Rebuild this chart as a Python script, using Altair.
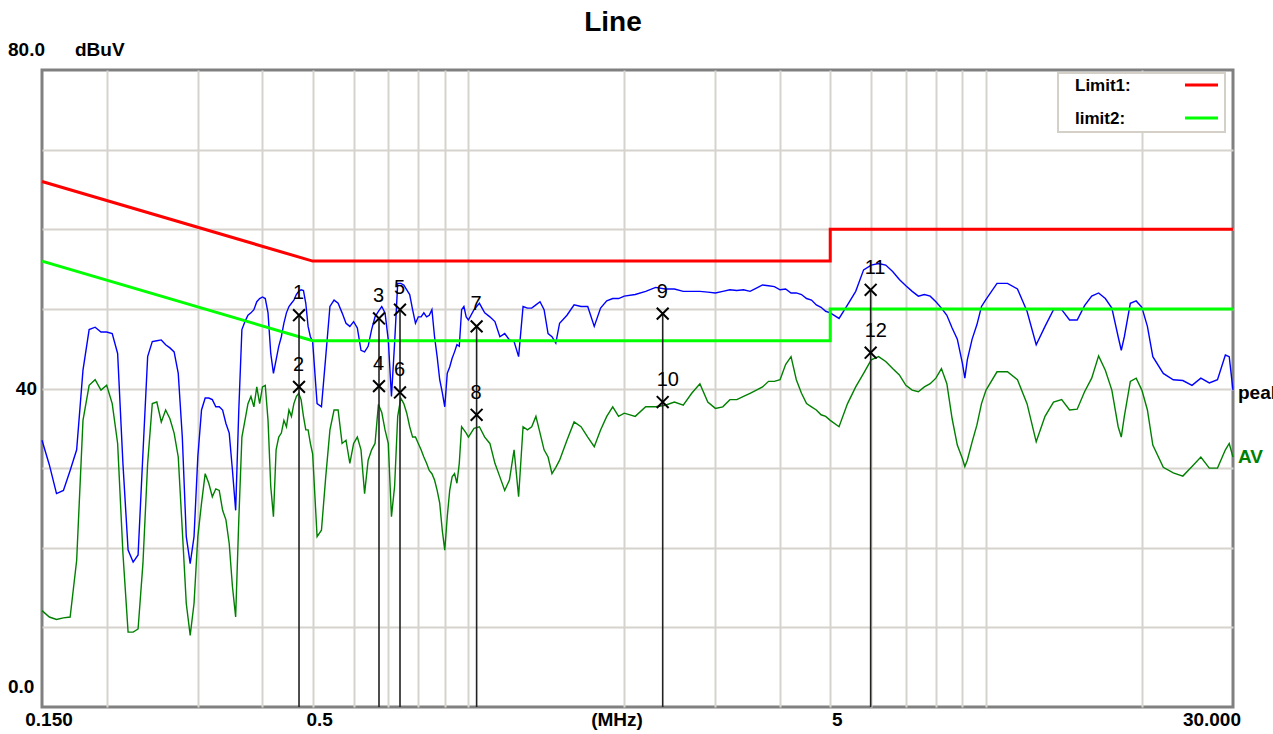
import altair as alt
import pandas as pd

# ---- sweep data (MHz, dBuV) ----
FREQ_MHZ = [
    0.150, 0.155, 0.160, 0.165, 0.170, 0.175, 0.180, 0.185, 0.190, 0.195,
    0.200, 0.205, 0.210, 0.215, 0.220, 0.225, 0.230, 0.235, 0.240, 0.245,
    0.250, 0.255, 0.260, 0.265, 0.270, 0.275, 0.280, 0.285, 0.290, 0.295,
    0.300, 0.305, 0.310, 0.315, 0.320, 0.325, 0.330, 0.335, 0.340, 0.345,
    0.350, 0.355, 0.360, 0.365, 0.370, 0.375, 0.380, 0.385, 0.390, 0.395,
    0.400, 0.405, 0.410, 0.415, 0.420, 0.425, 0.430, 0.435, 0.440, 0.445,
    0.450, 0.455, 0.460, 0.465, 0.470, 0.475, 0.480, 0.485, 0.490, 0.495,
    0.500,
    0.51, 0.52, 0.53, 0.54, 0.55, 0.56,
    0.57, 0.58, 0.59, 0.60, 0.61, 0.62, 0.63, 0.64, 0.65, 0.66,
    0.67, 0.68, 0.69, 0.70, 0.71, 0.72, 0.73, 0.74, 0.75, 0.76,
    0.77, 0.78, 0.79, 0.80, 0.81, 0.82, 0.83, 0.84, 0.85, 0.86,
    0.87, 0.88, 0.89, 0.90, 0.91, 0.92, 0.93, 0.94, 0.95, 0.96,
    0.97, 0.98, 0.99, 1.00,
    1.025, 1.05, 1.075, 1.10, 1.125, 1.15, 1.175, 1.20, 1.225, 1.25,
    1.275, 1.30, 1.325, 1.35, 1.375, 1.40, 1.425, 1.45, 1.475, 1.50,
    1.55, 1.60, 1.65, 1.70, 1.75, 1.80, 1.85, 1.90, 1.95, 2.00,
    2.1, 2.2, 2.3, 2.4, 2.5, 2.6, 2.7, 2.8, 2.9, 3.0,
    3.1, 3.2, 3.3, 3.4, 3.5, 3.6, 3.7, 3.8, 3.9, 4.0,
    4.1, 4.2, 4.3, 4.4, 4.5, 4.6, 4.7, 4.8, 4.9, 5.0,
    5.2, 5.4, 5.6, 5.8, 6.0, 6.2, 6.4, 6.6, 6.8, 7.0,
    7.2, 7.4, 7.6,
    7.8, 8.0, 8.2, 8.4, 8.6, 8.8, 9.0, 9.1, 9.2, 9.4,
    9.6, 9.8, 10.0,
    10.5, 11.0, 11.5, 12.0, 12.5, 13.0, 13.5, 14.0, 14.5, 15.0,
    15.5, 16.0, 16.5, 17.0, 17.5, 18.0, 18.25, 18.5, 19.0, 19.5,
    20.0,
    20.5, 21, 22, 23, 24, 25, 26, 27, 28, 29,
    29.5, 30,
]

PEAK_DBUV = [
    33.5, 30.4, 26.8, 27.2, 29.7, 32.3, 42.3, 47.4, 47.7, 47.1,
    47.1, 46.9, 44.4, 30.6, 19.7, 18.2, 19.1, 31.8, 44.0, 45.9,
    46.0, 46.1, 45.5, 45.1, 44.6, 41.9, 33.9, 21.4, 18.0, 21.4,
    31.4, 37.3, 38.8, 38.8, 38.6, 37.7, 37.7, 37.3, 35.6, 34.4,
    29.7, 24.7, 37.3, 47.4, 48.4, 49.2, 49.5, 49.9, 50.9, 51.3,
    51.5, 51.3, 49.5, 44.4, 41.9, 43.6, 45.3, 46.5, 48.2, 49.5,
    50.3, 50.7, 51.1, 51.8, 52.2, 52.4, 52.3, 50.7, 47.8, 46.5,
    45.9,
    38.1, 37.7, 44.0, 50.3, 51.1, 50.7,
    49.5, 48.2, 47.8, 48.4, 47.6, 44.8, 44.6, 45.3, 47.4, 49.0,
    49.7, 50.3, 49.5, 46.1, 39.0, 45.7, 53.2, 53.2, 53.0, 52.4,
    51.8, 49.9, 48.2, 49.0, 49.0, 49.5, 49.0, 49.2, 49.9, 46.5,
    44.0, 41.1, 39.5, 37.7, 41.9, 42.7, 43.8, 44.6, 45.5, 45.3,
    49.9, 50.3, 49.0, 48.6,
    49.9, 50.7, 49.5, 49.0, 48.4, 46.5, 46.9, 46.1, 45.9, 44.0,
    50.3, 50.1, 50.1, 50.5, 50.9, 49.9, 46.9, 46.5, 45.7, 48.2,
    49.2, 50.5, 50.3, 50.3, 47.8, 50.1, 51.0, 51.3, 51.3, 51.6,
    51.8, 52.2, 52.7, 52.5, 52.5, 52.2, 52.2, 52.2, 52.1, 52.0,
    52.2, 52.4, 52.3, 52.4, 52.2, 52.6, 53.0, 52.9, 52.8, 52.4,
    52.5, 52.0, 52.0, 51.8, 51.3, 51.1, 50.5, 50.2, 49.7, 49.5,
    48.8, 50.5, 52.2, 54.9, 55.5, 55.7, 55.5, 54.7, 53.7, 52.9,
    52.2, 51.6, 51.8,
    51.6, 50.9, 50.1, 49.2, 47.6, 46.2, 43.2, 41.3, 43.6, 46.2,
    48.0, 50.3, 51.2,
    53.2, 53.2, 52.5, 49.7, 45.5, 47.8, 49.9, 49.9, 48.6, 48.6,
    50.4, 51.6, 52.0, 51.3, 50.1, 46.5, 44.8, 46.5, 50.7, 51.0,
    50.2,
    47.8, 44.0, 41.9, 41.1, 41.0, 40.4, 41.3, 40.7, 41.1, 44.2,
    44.0, 39.8,
]

AVG_DBUV = [
    12.1, 11.3, 11.0, 11.2, 11.3, 18.4, 36.0, 40.4, 41.1, 39.8,
    40.4, 38.1, 33.1, 19.3, 9.4, 9.4, 9.8, 18.0, 30.6, 38.1,
    38.3, 35.8, 37.3, 36.2, 34.4, 31.4, 22.2, 13.0, 9.0, 13.0,
    21.4, 25.6, 29.3, 28.1, 26.4, 27.4, 27.2, 24.7, 23.5, 20.5,
    15.1, 11.3, 23.5, 33.9, 36.0, 38.1, 39.0, 37.7, 40.2, 38.1,
    40.2, 40.4, 36.0, 27.7, 23.9, 32.3, 33.9, 34.4, 36.0, 35.2,
    37.3, 36.5, 38.1, 39.0, 39.4, 38.6, 36.5, 34.8, 34.8, 33.1,
    31.8,
    21.4, 22.2, 28.9, 34.8, 37.3, 37.3,
    33.1, 33.5, 30.6, 33.1, 33.9, 32.3, 26.8, 31.0, 32.3, 33.1,
    38.0, 37.0, 34.8, 33.1, 23.9, 27.7, 36.5, 38.8, 38.1, 36.9,
    35.2, 33.9, 33.9, 33.1, 32.3, 31.4, 30.6, 29.7, 29.3, 28.5,
    27.2, 25.6, 22.2, 19.7, 23.9, 27.2, 28.9, 29.3, 28.1, 30.6,
    35.2, 34.8, 34.4, 33.9,
    35.0, 35.2, 33.9, 33.1, 30.6, 28.9, 27.2, 28.5, 32.3, 26.4,
    35.2, 34.8, 35.2, 36.5, 34.4, 32.3, 31.4, 29.3, 30.1, 31.0,
    33.5, 35.8, 35.2, 33.9, 32.7, 34.8, 36.5, 37.7, 36.5, 36.9,
    36.5, 37.7, 37.7, 37.9, 38.3, 37.9, 39.4, 40.6, 38.3, 37.5,
    37.7, 38.6, 38.6, 39.0, 39.4, 39.8, 40.2, 40.9, 40.9, 41.1,
    43.0, 44.0, 41.1, 39.4, 38.1, 37.7, 37.3, 36.7, 36.5, 36.0,
    35.2, 38.1, 40.2, 41.9, 43.6, 44.0, 43.4, 42.5, 41.7, 40.4,
    39.8, 39.6, 40.2,
    40.6, 41.3, 42.5, 40.6, 36.2, 32.9, 31.2, 30.2, 31.0, 33.3,
    35.4, 38.1, 39.8,
    42.1, 42.1, 41.1, 38.1, 33.3, 36.5, 38.3, 38.6, 37.3, 37.4,
    39.6, 41.3, 44.1, 42.3, 39.8, 35.2, 33.9, 36.5, 40.9, 41.3,
    39.8,
    37.3, 32.9, 30.1, 29.4, 29.0, 30.2, 31.4, 30.0, 30.0, 32.3,
    33.1, 31.4,
]

# ---- limit lines ----
LIMIT_NAMES = ["Limit1:", "limit2:"]
LIMIT_FREQ = [0.15, 0.5, 5, 5, 30]
LIMIT1_DBUV = [66, 56, 56, 60, 60]
LIMIT2_DBUV = [56, 46, 46, 50, 50]

# ---- markers ----
MARKER_NO = ["1", "2", "3", "4", "5", "6", "7", "8", "9", "10", "11", "12"]
MARKER_FREQ = [0.4706, 0.4706, 0.6717, 0.6717, 0.7375, 0.7375,
               1.037, 1.037, 2.373, 2.373, 5.985, 5.985]
MARKER_DBUV = [49.2, 40.2, 48.8, 40.3, 49.9, 39.5,
               47.8, 36.7, 49.4, 38.3, 52.4, 44.5]

# ---- axes ----
X_GRID = [0.2, 0.3, 0.4, 0.5, 0.6, 0.7, 0.8, 0.9, 1, 2, 3, 4, 5, 6, 7, 8, 9, 10, 20]
Y_GRID = [10, 20, 30, 40, 50, 60, 70]
X_TICK_FREQ = [0.15, 0.5, 5]
X_TICK_TEXT = ["0.150", "0.5", "5"]
X_END_FREQ = [30]
X_END_TEXT = ["30.000"]
Y_OUTER_VALUE = [80, 0]
Y_OUTER_TEXT = ["80.0", "0.0"]
Y_MID_VALUE = [40]
Y_MID_TEXT = ["40"]

W, H = 1191, 637
FONT = "Liberation Sans"
GRID_COLOR = "#d6d3ce"

trace = pd.DataFrame({"freq": FREQ_MHZ, "peak": PEAK_DBUV, "avg": AVG_DBUV})
limits = pd.DataFrame({"freq": LIMIT_FREQ, "l1": LIMIT1_DBUV, "l2": LIMIT2_DBUV})
markers = pd.DataFrame({"no": MARKER_NO, "freq": MARKER_FREQ, "db": MARKER_DBUV})
marker_tops = markers.iloc[::2]

x_scale = alt.Scale(type="log", domain=[0.15, 30], nice=False)
y_scale = alt.Scale(domain=[0, 80], nice=False, zero=False)
x_axis = alt.Axis(values=X_GRID, grid=True, labels=False, ticks=False, domain=False,
                  title=None, gridColor=GRID_COLOR, gridWidth=2)
y_axis = alt.Axis(values=Y_GRID, grid=True, labels=False, ticks=False, domain=False,
                  title=None, gridColor=GRID_COLOR, gridWidth=2)


def X(field):
    return alt.X(field, type="quantitative", scale=x_scale, axis=x_axis)


def Y(field):
    return alt.Y(field, type="quantitative", scale=y_scale, axis=y_axis)


one = alt.Data(values=[{"k": 0}])

peak_line = alt.Chart(trace).mark_line(color="#0000ff", strokeWidth=1.4).encode(
    x=X("freq"), y=Y("peak"))
avg_line = alt.Chart(trace).mark_line(color="#008000", strokeWidth=1.4).encode(
    x=X("freq"), y=Y("avg"))

limit1 = alt.Chart(limits).mark_line(color="#ff0000", strokeWidth=3).encode(
    x=X("freq"), y=Y("l1"))
limit2 = alt.Chart(limits).mark_line(color="#00ff00", strokeWidth=3).encode(
    x=X("freq"), y=Y("l2"))

marker_rules = alt.Chart(marker_tops).mark_rule(color="#222222", strokeWidth=1.6).encode(
    x=X("freq"), y=Y("db"), y2=alt.datum(0))
marker_x = alt.Chart(markers).mark_point(
    shape="M -1 -1 L 1 1 M -1 1 L 1 -1", size=140, filled=False,
    color="#000000", strokeWidth=2, opacity=1).encode(x=X("freq"), y=Y("db"))
marker_no = alt.Chart(markers).mark_text(
    align="left", baseline="middle", dx=-6, dy=-22, font=FONT, fontSize=20,
    fontWeight=500, color="#000000").encode(x=X("freq"), y=Y("db"), text="no:N")

# trace names at the right edge
end = trace.iloc[[-1]]
peak_name = alt.Chart(end).mark_text(
    align="left", baseline="middle", dx=5, dy=3, font=FONT, fontSize=19,
    fontWeight="bold", color="#000000", text="peak").encode(x=X("freq"), y=Y("peak"))
avg_name = alt.Chart(end).mark_text(
    align="left", baseline="middle", dx=5, font=FONT, fontSize=19,
    fontWeight="bold", color="#008000", text="AV").encode(x=X("freq"), y=Y("avg"))

# axis labels
xt = pd.DataFrame({"freq": X_TICK_FREQ, "t": X_TICK_TEXT})
x_ticks = alt.Chart(xt).mark_text(
    align="center", baseline="middle", dx=7, font=FONT, fontSize=19,
    fontWeight="bold", color="#000000").encode(x=X("freq"), y=alt.value(H + 13), text="t:N")
xe = pd.DataFrame({"freq": X_END_FREQ, "t": X_END_TEXT})
x_end = alt.Chart(xe).mark_text(
    align="right", baseline="middle", dx=8, font=FONT, fontSize=19,
    fontWeight="bold", color="#000000").encode(x=X("freq"), y=alt.value(H + 13), text="t:N")
x_unit = alt.Chart(one).mark_text(
    align="center", baseline="middle", font=FONT, fontSize=19, fontWeight="bold",
    color="#000000", text="(MHz)").encode(x=alt.value(575), y=alt.value(H + 13))

yo = pd.DataFrame({"v": Y_OUTER_VALUE, "t": Y_OUTER_TEXT})
y_outer = alt.Chart(yo).mark_text(
    align="left", baseline="middle", dy=-20, font=FONT, fontSize=19,
    fontWeight="bold", color="#000000").encode(x=alt.value(-34), y=Y("v"), text="t:N")
ym = pd.DataFrame({"v": Y_MID_VALUE, "t": Y_MID_TEXT})
y_mid = alt.Chart(ym).mark_text(
    align="right", baseline="middle", font=FONT, fontSize=19,
    fontWeight="bold", color="#000000").encode(x=alt.value(-5), y=Y("v"), text="t:N")
y_unit = alt.Chart(pd.DataFrame({"v": [80]})).mark_text(
    align="left", baseline="middle", dy=-20, font=FONT, fontSize=19,
    fontWeight="bold", color="#000000", text="dBuV").encode(x=alt.value(33), y=Y("v"))

title = alt.Chart(one).mark_text(
    align="center", baseline="middle", font=FONT, fontSize=28, fontWeight="bold",
    color="#000000", text="Line").encode(x=alt.value(571), y=alt.value(-47))

# legend box
legend_box = alt.Chart(one).mark_rect(fill="#ffffff", stroke="#d4d0c8", strokeWidth=2).encode(
    x=alt.value(1016), x2=alt.value(1183), y=alt.value(3), y2=alt.value(62))
legend_t1 = alt.Chart(one).mark_text(
    align="left", baseline="middle", font=FONT, fontSize=17, fontWeight="bold",
    color="#000000", text=LIMIT_NAMES[0]).encode(x=alt.value(1033), y=alt.value(16))
legend_t2 = alt.Chart(one).mark_text(
    align="left", baseline="middle", font=FONT, fontSize=17, fontWeight="bold",
    color="#000000", text=LIMIT_NAMES[1]).encode(x=alt.value(1033), y=alt.value(49))
legend_l1 = alt.Chart(one).mark_rule(color="#ff0000", strokeWidth=3).encode(
    x=alt.value(1143), x2=alt.value(1176), y=alt.value(15))
legend_l2 = alt.Chart(one).mark_rule(color="#00ff00", strokeWidth=3).encode(
    x=alt.value(1143), x2=alt.value(1176), y=alt.value(48))

chart = alt.layer(
    peak_line, avg_line, limit1, limit2, marker_rules, marker_x, marker_no,
    peak_name, avg_name, x_ticks, x_end, x_unit, y_outer, y_mid, y_unit, title,
    legend_box, legend_t1, legend_t2, legend_l1, legend_l2,
).properties(
    width=W, height=H,
    autosize=alt.AutoSizeParams(type="none"),
    padding={"left": 42, "top": 70, "right": 40, "bottom": 27},
    background="#ffffff",
).configure_view(stroke="#808080", strokeWidth=3)

chart.save("out.html", embed_options={"renderer": "svg", "actions": False})
